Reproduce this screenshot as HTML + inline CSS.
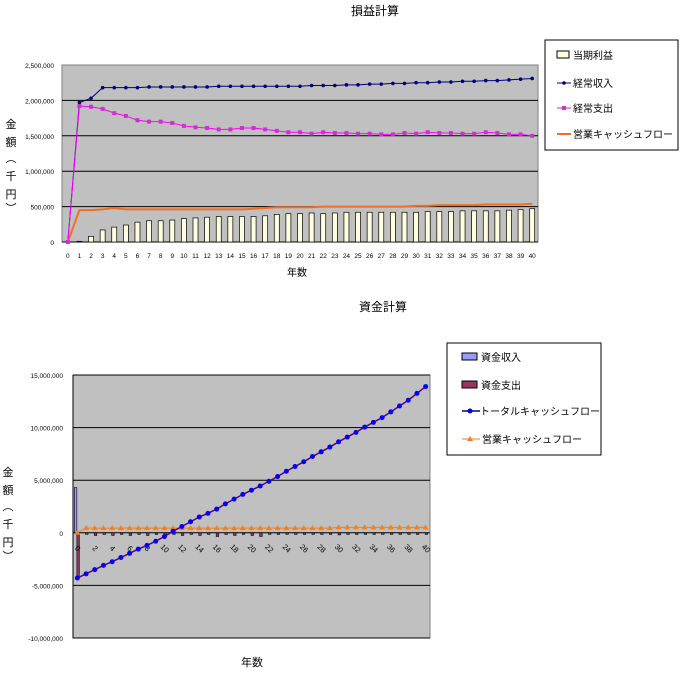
<!DOCTYPE html>
<html><head><meta charset="utf-8"><style>
body{margin:0;background:#fff;}
svg{display:block;font-family:"Liberation Sans","Noto Sans CJK JP",sans-serif;}
</style></head><body>
<svg id="s" width="683" height="681" xmlns="http://www.w3.org/2000/svg">
<text x="375" y="15" font-size="12" text-anchor="middle">損益計算</text>
<text x="383" y="311" font-size="12" text-anchor="middle">資金計算</text>
<text x="297" y="276" font-size="10" text-anchor="middle">年数</text>
<text x="252" y="666" font-size="11" text-anchor="middle">年数</text>
<g font-size="11" text-anchor="middle">
<text x="11" y="128">金</text><text x="11" y="146">額</text><text x="11" y="162">︵</text><text x="11" y="180">千</text><text x="11" y="198">円</text><text x="11" y="212">︶</text></g>
<g font-size="11" text-anchor="middle">
<text x="8" y="476">金</text><text x="8" y="494">額</text><text x="8" y="510">︵</text><text x="8" y="528">千</text><text x="8" y="546">円</text><text x="8" y="560">︶</text></g>
<g id="c1"></g><g id="c2"></g>
<g>
<rect x="545" y="40" width="133" height="110" fill="#fff" stroke="#000"/>
<rect x="557" y="51" width="12" height="7" fill="#ffffe0" stroke="#000"/>
<text x="573" y="59" font-size="10">当期利益</text>
<line x1="557" y1="83" x2="571" y2="83" stroke="#000080"/><circle cx="564" cy="83" r="1.8" fill="#000080"/>
<text x="573" y="87" font-size="10">経常収入</text>
<line x1="557" y1="108" x2="571" y2="108" stroke="#ff00ff"/><rect x="562" y="106" width="4" height="4" fill="#cc33cc"/>
<text x="573" y="112" font-size="10">経常支出</text>
<line x1="557" y1="134" x2="571" y2="134" stroke="#f07020" stroke-width="2"/>
<text x="573" y="138" font-size="10">営業キャッシュフロー</text>
</g>
<g>
<rect x="447" y="343" width="154" height="112" fill="#fff" stroke="#000"/>
<rect x="462" y="353" width="15" height="7" fill="#9999ff" stroke="#000"/>
<text x="481" y="361" font-size="10">資金収入</text>
<rect x="462" y="381" width="15" height="7" fill="#993366" stroke="#000"/>
<text x="481" y="389" font-size="10">資金支出</text>
<line x1="462" y1="411" x2="480" y2="411" stroke="#000080" stroke-width="1.5"/><circle cx="470" cy="411" r="2.5" fill="#0000ff"/>
<text x="480" y="415" font-size="10">トータルキャッシュフロー</text>
<line x1="462" y1="439" x2="480" y2="439" stroke="#f08020"/><polygon points="470,436 473,441 467,441" fill="#f08020"/>
<text x="482" y="443" font-size="10">営業キャッシュフロー</text>
</g>
</svg>
<script>
const years=[];for(let i=0;i<=40;i++)years.push(i);
const revenue=[0,1970,2030,2180,2180,2180,2180,2190,2190,2190,2190,2190,2190,2200,2200,2200,2200,2200,2200,2200,2200,2210,2210,2210,2220,2220,2230,2230,2240,2240,2250,2250,2260,2260,2270,2270,2280,2280,2290,2300,2310];
const expense=[0,1920,1910,1880,1820,1780,1720,1700,1700,1680,1640,1620,1610,1590,1590,1610,1610,1590,1570,1550,1550,1530,1550,1540,1540,1530,1530,1520,1520,1540,1530,1550,1540,1540,1530,1530,1550,1540,1520,1520,1500];
const opcf=[0,450,450,460,480,460,460,460,460,460,460,460,460,460,460,460,470,480,490,490,490,490,500,500,500,500,500,500,500,500,510,510,520,520,520,520,530,530,530,530,540];
const profit=[0,10,80,170,210,240,280,300,300,310,330,340,350,360,360,360,360,370,390,400,400,410,400,410,420,420,420,420,420,420,420,430,430,430,440,440,440,440,450,460,470];
const plTicks=[0,500000,1000000,1500000,2000000,2500000];
const plTickLabels=["0","500,000","1,000,000","1,500,000","2,000,000","2,500,000"];
const receipts=[4300,0,0,0,0,0,0,0,0,0,0,0,0,0,0,0,0,0,0,0,0,0,0,0,0,0,0,0,0,0,0,0,0,0,0,0,0,0,0,0,0];
const payments=[-4300,-150,-250,-150,-250,-150,-250,-150,-250,-150,-250,-150,-250,-150,-250,-150,-350,-150,-250,-150,-250,-350,-150,-150,-150,-150,-150,-150,-150,-150,-200,-150,-150,-150,-150,-150,-150,-150,-150,-150,-150];
const totalcf=[-4300,-3900,-3500,-3100,-2750,-2350,-1950,-1550,-1200,-800,-350,150,600,1050,1500,1850,2250,2750,3200,3650,4050,4450,4900,5350,5850,6300,6750,7250,7700,8150,8650,9100,9550,10050,10500,10950,11500,12050,12600,13250,13900];
const opcf2=[0,450,450,450,450,450,450,450,450,450,450,450,450,450,450,450,450,450,450,450,450,450,450,450,450,450,450,450,450,450,520,520,520,520,520,520,520,520,520,520,520];
const cfTicks=[-10000000,-5000000,0,5000000,10000000,15000000];
const cfTickLabels=["-10,000,000","-5,000,000","0","5,000,000","10,000,000","15,000,000"];
const NS="http://www.w3.org/2000/svg";
function mk(p,t,a){const e=document.createElementNS(NS,t);for(const k in a)e.setAttribute(k,a[k]);p.appendChild(e);return e;}
(function(){
const g=document.getElementById('c1');
const L=62,R=538,T=65,B=242,n=years.length,bw=(R-L)/n;
const x=i=>L+bw*(i+0.5), y=v=>B-(v/2500000)*(B-T);
let bg=mk(g,'rect',{x:L,y:T,width:R-L,height:B-T,fill:'#c0c0c0',stroke:'#808080'});


plTicks.forEach((t,i)=>{
 if(t>0&&t<2500000){let l=mk(g,'line',{x1:L,x2:R,y1:y(t),y2:y(t),stroke:'#000'});
 
 }
 let tx=mk(g,'text',{x:L-8,y:y(t)+3,'font-size':'6.5','text-anchor':'end'});tx.textContent=plTickLabels[i];
 
 
});
mk(g,'line',{x1:L,x2:R,y1:B,y2:B,stroke:'#000'});
years.forEach((yr,i)=>{
 let b=mk(g,'rect',{x:x(i)-2.5,y:y(profit[i]*1000),width:5,height:B-y(profit[i]*1000),fill:'#ffffe0',stroke:'#000','stroke-width':'0.7'});
 
 
 let t=mk(g,'text',{x:x(i),y:B+16,'font-size':'6.5','text-anchor':'middle'});t.textContent=yr;
 
 
});
const line=(arr,col,w,name)=>{let p=mk(g,'polyline',{points:arr.map((v,i)=>x(i)+','+y(v*1000)).join(' '),fill:'none',stroke:col,'stroke-width':w});
 
 };
line(opcf,'#f07020',2,'opcf-line');
line(revenue,'#000080',1,'revenue-line');
line(expense,'#ff00ff',1,'expense-line');
revenue.forEach((v,i)=>{let c=mk(g,'circle',{cx:x(i),cy:y(v*1000),r:1.8,fill:'#000080'});
 
 });
expense.forEach((v,i)=>{let c=mk(g,'rect',{x:x(i)-2,y:y(v*1000)-2,width:4,height:4,fill:'#cc33cc'});
 
 });
})();
(function(){
const g=document.getElementById('c2');
const L=73,R=430,T=375,B=638,n=years.length,bw=(R-L)/n;
const x=i=>L+bw*(i+0.5), y=v=>B-((v+10000000)/25000000)*(B-T);
let bg=mk(g,'rect',{x:L,y:T,width:R-L,height:B-T,fill:'#c0c0c0',stroke:'#808080'});


cfTicks.forEach((t,i)=>{
 let l=mk(g,'line',{x1:L,x2:R,y1:y(t),y2:y(t),stroke:'#000'});
 
 
 let tx=mk(g,'text',{x:L-10,y:y(t)+3,'font-size':'6.5','text-anchor':'end'});tx.textContent=cfTickLabels[i];
 
 
});
mk(g,'line',{x1:L,x2:L,y1:T,y2:B,stroke:'#000'});
const y0=y(0);
years.forEach((yr,i)=>{
 if(receipts[i]>0){let b=mk(g,'rect',{x:x(i)-3,y:y(receipts[i]*1000),width:2.5,height:y0-y(receipts[i]*1000),fill:'#9999ff',stroke:'#000','stroke-width':'0.6'});
 
 }
 let b2=mk(g,'rect',{x:x(i)-0.5,y:y0,width:2.5,height:y(payments[i]*1000)-y0,fill:'#993366',stroke:'#000','stroke-width':'0.6'});
 
 
 if(yr%2===0){let t=mk(g,'text',{x:x(i),y:y0+18,'font-size':'7.5','text-anchor':'middle',transform:`rotate(45 ${x(i)} ${y0+16})`});t.textContent=yr;
 
 }
});
let p1=mk(g,'polyline',{points:opcf2.map((v,i)=>x(i)+','+y(v*1000)).join(' '),fill:'none',stroke:'#f08020','stroke-width':1});


opcf2.forEach((v,i)=>{const cx=x(i),cy=y(v*1000);let t=mk(g,'polygon',{points:`${cx},${cy-3} ${cx+3},${cy+2} ${cx-3},${cy+2}`,fill:'#f08020'});
 
 });
let p2=mk(g,'polyline',{points:totalcf.map((v,i)=>x(i)+','+y(v*1000)).join(' '),fill:'none',stroke:'#660066','stroke-width':1.5});


totalcf.forEach((v,i)=>{let c=mk(g,'circle',{cx:x(i),cy:y(v*1000),r:2.5,fill:'#0000ff'});
 
 });
})();
</script>
</body></html>
